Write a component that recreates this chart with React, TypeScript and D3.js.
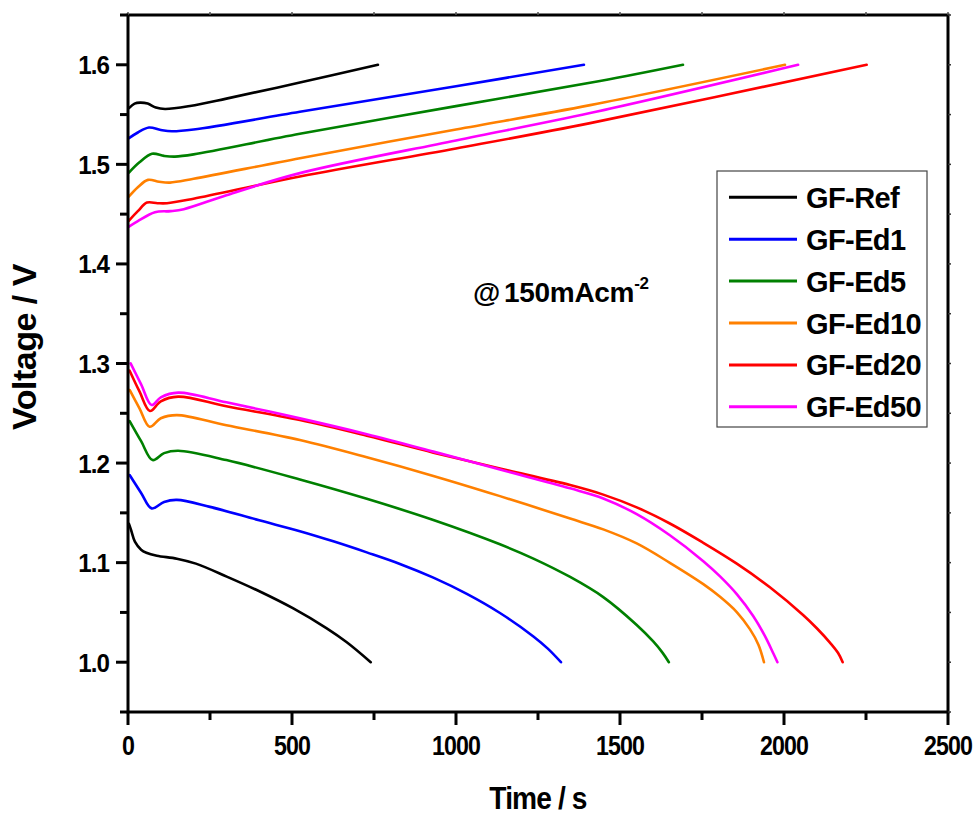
import React from "react";
import * as d3 from "d3";

// ---- data (time / s, voltage / V) ----
const seriesNames = ["GF-Ref", "GF-Ed1", "GF-Ed5", "GF-Ed10", "GF-Ed20", "GF-Ed50"];
const seriesColors = ["#000000", "#0000ff", "#008000", "#ff8000", "#ff0000", "#ff00ff"];

const refCharge = [[3,1.5565],[20,1.561],[37,1.562],[60,1.561],[85,1.557],[113,1.5556],[189,1.5586],[300,1.566],[524,1.5822],[762,1.6]];
const ed1Charge = [[3,1.5263],[30,1.532],[64,1.537],[100,1.5345],[134,1.5332],[200,1.535],[524,1.5528],[1000,1.5785],[1390,1.6]];
const ed5Charge = [[3,1.4918],[35,1.502],[73,1.5106],[110,1.5085],[143,1.5078],[200,1.510],[524,1.5307],[1000,1.5585],[1439,1.5837],[1692,1.6]];
const ed10Charge = [[3,1.4677],[30,1.477],[61,1.4844],[95,1.4825],[128,1.4817],[200,1.4855],[524,1.5062],[1000,1.535],[1409,1.5595],[2003,1.6]];
const ed20Charge = [[3,1.4435],[30,1.453],[58,1.4616],[90,1.461],[119,1.461],[200,1.4655],[524,1.4878],[1000,1.516],[1409,1.5414],[2252,1.6]];
const ed50Charge = [[3,1.4375],[30,1.443],[82,1.452],[130,1.453],[170,1.455],[300,1.469],[524,1.4912],[1000,1.524],[1409,1.5515],[2043,1.6]];

const refDischarge = [[3,1.139],[10,1.132],[21,1.121],[40,1.113],[56,1.110],[88,1.107],[149,1.104],[207,1.099],[301,1.086],[402,1.071],[504,1.054],[606,1.034],[667,1.020],[740,1.0]];
const ed1Discharge = [[5,1.188],[40,1.170],[72,1.1545],[110,1.161],[149,1.163],[250,1.156],[400,1.1425],[524,1.1316],[626,1.1214],[728,1.1103],[829,1.0987],[931,1.0849],[1033,1.0686],[1134,1.0494],[1236,1.0259],[1280,1.0136],[1320,1.0]];
const ed5Discharge = [[5,1.2422],[40,1.222],[75,1.203],[110,1.210],[153,1.2124],[300,1.203],[524,1.1835],[728,1.1641],[931,1.1428],[1134,1.1184],[1236,1.1041],[1348,1.0856],[1449,1.0654],[1551,1.0374],[1602,1.0206],[1630,1.0094],[1649,1.0]];
const ed10Discharge = [[5,1.2734],[35,1.255],[66,1.2365],[100,1.245],[149,1.2482],[300,1.238],[524,1.2231],[728,1.2058],[931,1.1871],[1134,1.1668],[1348,1.1443],[1449,1.1334],[1551,1.1193],[1652,1.0998],[1754,1.0784],[1805,1.0657],[1856,1.0504],[1896,1.0332],[1922,1.0176],[1939,1.0]];
const ed20Discharge = [[5,1.2928],[35,1.272],[67,1.2523],[100,1.262],[153,1.2667],[300,1.257],[524,1.2432],[728,1.2275],[931,1.2105],[1134,1.1945],[1348,1.1779],[1449,1.1683],[1551,1.1555],[1652,1.1393],[1754,1.1199],[1856,1.099],[1957,1.0753],[2059,1.0472],[2100,1.0341],[2140,1.0197],[2165,1.0092],[2179,1.0]];
const ed50Discharge = [[8,1.3002],[40,1.279],[72,1.2583],[100,1.266],[153,1.2707],[300,1.261],[524,1.2449],[728,1.229],[931,1.2115],[1134,1.1935],[1348,1.1746],[1449,1.1645],[1551,1.1487],[1652,1.1275],[1754,1.1015],[1805,1.0862],[1856,1.0684],[1906,1.0464],[1942,1.0262],[1968,1.0085],[1980,1.0]];

const chargeSeries = [refCharge, ed1Charge, ed5Charge, ed10Charge, ed20Charge, ed50Charge];
const dischargeSeries = [refDischarge, ed1Discharge, ed5Discharge, ed10Discharge, ed20Discharge, ed50Discharge];

const xMajorTicks = [0, 500, 1000, 1500, 2000, 2500];
const xMinorTicks = [250, 750, 1250, 1750, 2250];
const yMajorTicks = [1.0, 1.1, 1.2, 1.3, 1.4, 1.5, 1.6];
const yMinorTicks = [0.95, 1.05, 1.15, 1.25, 1.35, 1.45, 1.55, 1.65];

const xLabel = "Time / s";
const yLabel = "Voltage / V";
const annotation = "150mAcm";

export default function App() {
  const W = 977, H = 814;
  const left = 128, right = 948, top = 15, bottom = 712;
  const x = d3.scaleLinear().domain([0, 2500]).range([left, right]);
  const y = d3.scaleLinear().domain([0.95, 1.65]).range([bottom, top]);
  const line = d3.line<number[]>().x(d => x(d[0])).y(d => y(d[1])).curve(d3.curveCatmullRom.alpha(0.5));
  const font = "'Liberation Sans', Arial, Helvetica, sans-serif";

  const legendX = 717, legendY = 171, legendW = 210, legendH = 256;
  const rowGap = 41.9;

  return (
    <svg width={W} height={H} style={{ position: "absolute", left: 0, top: 0, background: "#fff" }} fontFamily={font}>
      <rect x={0} y={0} width={W} height={H} fill="#fff" />
      {/* data lines */}
      <g fill="none" strokeWidth={2.6} strokeLinejoin="round" strokeLinecap="round">
        {dischargeSeries.map((s, i) => (
          <path key={"d" + i} d={line(s) || ""} stroke={seriesColors[i]} />
        ))}
        {chargeSeries.map((s, i) => (
          <path key={"c" + i} d={line(s) || ""} stroke={seriesColors[i]} />
        ))}
      </g>

      {/* frame */}
      <rect x={left} y={top} width={right - left} height={bottom - top} fill="none" stroke="#000" strokeWidth={3} />

      {/* bottom ticks */}
      {xMajorTicks.map(t => (
        <g key={"xm" + t}>
          <line x1={x(t)} x2={x(t)} y1={bottom} y2={bottom + 13} stroke="#000" strokeWidth={3} />
          <line x1={x(t)} x2={x(t)} y1={top} y2={top - 3} stroke="#555" strokeWidth={1.5} />
          <text transform={`translate(${x(t)},${bottom + 43}) scale(0.86,1)`} textAnchor="middle" fontSize={27} fontWeight="bold" letterSpacing={-1}>{t}</text>
        </g>
      ))}
      {xMinorTicks.map(t => (
        <g key={"xn" + t}>
          <line x1={x(t)} x2={x(t)} y1={bottom} y2={bottom + 8} stroke="#000" strokeWidth={3} />
          <line x1={x(t)} x2={x(t)} y1={top} y2={top - 3} stroke="#555" strokeWidth={1.5} />
        </g>
      ))}

      {/* left ticks */}
      {yMajorTicks.map(v => (
        <g key={"ym" + v}>
          <line x1={left - 12} x2={left} y1={y(v)} y2={y(v)} stroke="#000" strokeWidth={3} />
          <line x1={right} x2={right + 3} y1={y(v)} y2={y(v)} stroke="#333" strokeWidth={1.5} />
          <text transform={`translate(${109},${y(v) + 9.5}) scale(0.93,1)`} textAnchor="end" fontSize={26} fontWeight="bold" letterSpacing={-1}>{v.toFixed(1)}</text>
        </g>
      ))}
      {yMinorTicks.map(v => (
        <g key={"yn" + v}>
          <line x1={left - 8} x2={left} y1={y(v)} y2={y(v)} stroke="#000" strokeWidth={3} />
          <line x1={right} x2={right + 3} y1={y(v)} y2={y(v)} stroke="#333" strokeWidth={1.5} />
        </g>
      ))}

      {/* axis titles */}
      <text transform={`translate(538,${809}) scale(0.88,1)`} textAnchor="middle" fontSize={32} fontWeight="bold" letterSpacing={-1}>{xLabel}</text>
      <text transform={`translate(36,${347}) rotate(-90)`} textAnchor="middle" fontSize={34} fontWeight="bold" letterSpacing={-0.5}>{yLabel}</text>

      {/* annotation */}
      <text x={473} y={302} fontSize={28} fontWeight="bold" letterSpacing={-0.3}>
        <tspan>@</tspan>
        <tspan dx={4}>{annotation}</tspan>
        <tspan dy={-13} fontSize={17}>-2</tspan>
      </text>

      {/* legend */}
      <rect x={legendX} y={legendY} width={legendW} height={legendH} fill="#fff" stroke="#444" strokeWidth={1.2} />
      {seriesNames.map((n, i) => {
        const cy = 197.3 + i * rowGap;
        return (
          <g key={n}>
            <line x1={729} x2={797} y1={cy} y2={cy} stroke={seriesColors[i]} strokeWidth={3} />
            <text x={806} y={cy + 10.5} fontSize={29} fontWeight="bold" letterSpacing={-0.6}>{n}</text>
          </g>
        );
      })}
    </svg>
  );
}
